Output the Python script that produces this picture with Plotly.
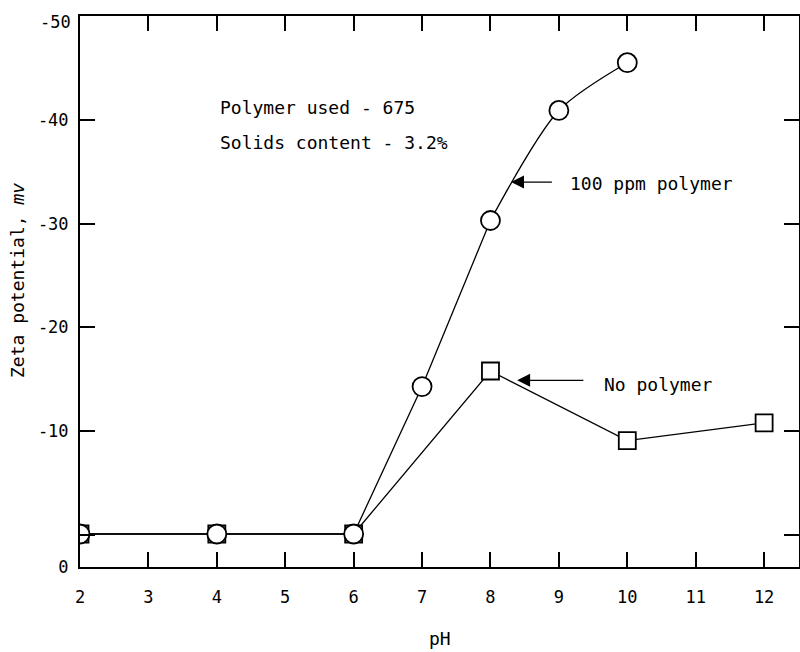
import plotly.graph_objects as go

# ---- data ----
ph_polymer = [2, 4, 6, 7, 8, 9, 10]
zeta_polymer = [-0.1, -0.1, -0.1, -14.3, -30.3, -40.9, -45.5]

ph_none = [2, 4, 6, 8, 10, 12]
zeta_none = [-0.1, -0.1, -0.1, -15.8, -9.1, -10.8]

x_tick_vals = [2, 3, 4, 5, 6, 7, 8, 9, 10, 11, 12]
x_tick_labels = ["2", "3", "4", "5", "6", "7", "8", "9", "10", "11", "12"]
y_tick_vals = [-50, -40, -30, -20, -10, 0]
y_tick_labels = ["-50", "-40", "-30", "-20", "-10", ""]
y_origin_label = "0"

X_RANGE = [2, 12.51]
Y_RANGE = [3.08, -50]

FONT = "DejaVu Sans Mono"
fig = go.Figure()

# No polymer (squares)
fig.add_trace(go.Scatter(
    x=ph_none, y=zeta_none, mode="lines+markers",
    line=dict(color="black", width=1.3),
    marker=dict(symbol="square", size=17, color="white",
                line=dict(color="black", width=1.8)),
    showlegend=False, cliponaxis=True))

# 100 ppm polymer: straight part then smooth part
fig.add_trace(go.Scatter(
    x=ph_polymer[:5], y=zeta_polymer[:5], mode="lines",
    line=dict(color="black", width=1.3), showlegend=False))
fig.add_trace(go.Scatter(
    x=ph_polymer[4:], y=zeta_polymer[4:], mode="lines",
    line=dict(color="black", width=1.3, shape="spline", smoothing=0.8),
    showlegend=False))
fig.add_trace(go.Scatter(
    x=ph_polymer, y=zeta_polymer, mode="markers",
    marker=dict(symbol="circle", size=19, color="white",
                line=dict(color="black", width=1.8)),
    showlegend=False, cliponaxis=True))

axis_common = dict(
    showgrid=False, zeroline=False, showline=True, linecolor="black",
    linewidth=2, mirror="ticks", ticks="inside", ticklen=15,
    tickwidth=1.8, tickcolor="black", automargin=False,
    tickfont=dict(family=FONT, size=17, color="black"),
)

fig.update_xaxes(range=X_RANGE, tickmode="array", tickvals=x_tick_vals,
                 ticktext=x_tick_labels, ticklabelstandoff=14, **axis_common)
fig.update_yaxes(range=Y_RANGE, tickmode="array",
                 tickvals=y_tick_vals + [Y_RANGE[0]],
                 ticktext=[""] + y_tick_labels[1:] + [y_origin_label],
                 ticklabelstandoff=6, **axis_common)

txt = dict(family=FONT, size=18, color="black")
tick_txt = dict(family=FONT, size=17, color="black")
ann = [
    # top tick label sits a little below the frame line
    dict(xref="paper", x=0, y=y_tick_vals[0], text=y_tick_labels[0],
         showarrow=False, xanchor="right", yanchor="middle",
         xshift=-7, yshift=-6, font=tick_txt),
    dict(x=4.01, y=-41.2, text="Polymer used - 675", showarrow=False,
         xanchor="left", yanchor="middle", font=txt),
    dict(x=4.01, y=-37.8, text="Solids content - 3.2%", showarrow=False,
         xanchor="left", yanchor="middle", font=txt),
    dict(x=9.13, y=-33.9, text="100 ppm polymer", showarrow=False,
         xanchor="left", yanchor="middle", font=txt),
    dict(x=9.63, y=-14.5, text="No polymer", showarrow=False,
         xanchor="left", yanchor="middle", font=txt),
    # arrows
    dict(x=8.30, y=-34.0, ax=8.92, ay=-34.0, axref="x", ayref="y",
         text="", showarrow=True, arrowhead=2, arrowsize=2,
         arrowwidth=1.3, arrowcolor="black"),
    dict(x=8.39, y=-14.9, ax=9.38, ay=-14.9, axref="x", ayref="y",
         text="", showarrow=True, arrowhead=2, arrowsize=2,
         arrowwidth=1.3, arrowcolor="black"),
    # axis titles
    dict(xref="paper", yref="paper", x=0.5, y=-0.129, text="pH",
         showarrow=False, xanchor="center", yanchor="middle", font=txt),
    dict(xref="paper", yref="paper", x=(17 - 80) / 719, y=(567 - 281) / 551,
         text="Zeta potential, <i>mv</i>", textangle=-90, showarrow=False,
         xanchor="center", yanchor="middle", font=txt),
]

fig.update_layout(
    width=800, height=652,
    margin=dict(l=80, r=1, t=16, b=85),
    paper_bgcolor="white", plot_bgcolor="white",
    annotations=ann,
    font=dict(family=FONT, color="black"),
)

fig.write_html(
    "out.html",
    config={"displayModeBar": False},
    post_script="document.body.style.margin='0';"
                "document.body.style.overflow='hidden';",
)
